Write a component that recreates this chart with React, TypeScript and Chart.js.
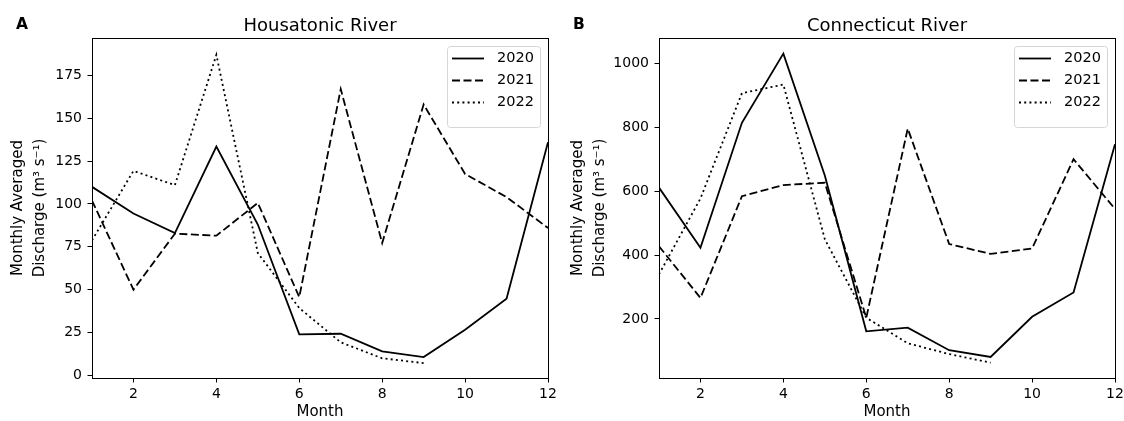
import React, { useEffect, useRef } from "react";
import { Chart, registerables } from "chart.js";

Chart.register(...registerables);

// ---------- data ----------
const MONTHS = [1, 2, 3, 4, 5, 6, 7, 8, 9, 10, 11, 12];
const YEARS = ["2020", "2021", "2022"];

const HOUSATONIC_2020 = [110, 94.4, 83, 133.5, 88, 24, 24.3, 14, 10.7, 26.6, 44.7, 136];
const HOUSATONIC_2021 = [102, 50, 82.7, 81.5, 100.6, 45.7, 167, 77.2, 158, 117.5, 104, 86];
const HOUSATONIC_2022 = [78.8, 119.3, 111, 187, 71.4, 39.3, 19.3, 10, 7.2, null, null, null];

const CONNECTICUT_2020 = [612, 423, 815, 1032, 650, 161.5, 173, 102, 81, 207, 283, 748];
const CONNECTICUT_2021 = [428, 266, 585, 620, 627, 204, 797, 435, 404, 421, 701, 545];
const CONNECTICUT_2022 = [340, 578, 908, 935, 450, 204, 124, 90, 63, null, null, null];

const HOUSATONIC_Y_TICKS = [0, 25, 50, 75, 100, 125, 150, 175];
const CONNECTICUT_Y_TICKS = [200, 400, 600, 800, 1000];
const X_TICKS = [2, 4, 6, 8, 10, 12];

// ---------- styles ----------
const FONT = '"DejaVu Sans", "Noto Sans", sans-serif';
const DASHES: number[][] = [[], [8, 3.5], [2, 3.2]];
const LINE_WIDTH = 1.8;

type PanelProps = {
  title: string;
  letter: string;
  series: (number | null)[][];
  yMin: number;
  yMax: number;
  yTicks: number[];
  width: number;
  left: number;
  yAxisWidth: number;
  padRight: number;
  letterX: number;
};

const decorPlugin = {
  id: "decor",
  afterDraw(chart: any, _args: any, opts: any) {
    const { ctx, chartArea: a } = chart;
    ctx.save();
    // frame
    ctx.strokeStyle = "#000";
    ctx.lineWidth = 1;
    ctx.setLineDash([]);
    const l = Math.round(a.left) + 0.5;
    const t = Math.round(a.top) + 0.5;
    const r = Math.round(a.right) + 0.5;
    const b = Math.round(a.bottom) + 0.5;
    ctx.strokeRect(l, t, r - l, b - t);

    // title
    ctx.fillStyle = "#000";
    ctx.font = `18px ${FONT}`;
    ctx.textAlign = "center";
    ctx.textBaseline = "alphabetic";
    ctx.fillText(opts.title, (a.left + a.right) / 2, 31);

    // panel letter
    ctx.font = `bold 15.5px ${FONT}`;
    ctx.textAlign = "left";
    ctx.fillText(opts.letter, opts.letterX, 29);

    // legend
    const lw = 93;
    const lh = 81;
    const x0 = a.right - 8 - lw;
    const y0 = a.top + 8;
    ctx.beginPath();
    if ((ctx as any).roundRect) {
      (ctx as any).roundRect(x0 + 0.5, y0 + 0.5, lw, lh, 3);
    } else {
      ctx.rect(x0 + 0.5, y0 + 0.5, lw, lh);
    }
    ctx.fillStyle = "rgba(255,255,255,0.8)";
    ctx.fill();
    ctx.strokeStyle = "#d6d6d6";
    ctx.lineWidth = 1;
    ctx.stroke();

    chart.data.datasets.forEach((ds: any, i: number) => {
      const y = y0 + 12.5 + i * 22;
      ctx.beginPath();
      ctx.setLineDash(ds.borderDash || []);
      ctx.strokeStyle = "#000";
      ctx.lineWidth = LINE_WIDTH;
      ctx.moveTo(x0 + 5, y);
      ctx.lineTo(x0 + 37, y);
      ctx.stroke();
      ctx.setLineDash([]);
      ctx.fillStyle = "#000";
      ctx.font = `14.5px ${FONT}`;
      ctx.textAlign = "left";
      ctx.textBaseline = "middle";
      ctx.fillText(ds.label, x0 + 50, y);
    });
    ctx.restore();
  },
};

function Panel(props: PanelProps) {
  const ref = useRef<HTMLCanvasElement | null>(null);

  useEffect(() => {
    if (!ref.current) return;
    const datasets = props.series.map((vals, i) => ({
      label: YEARS[i],
      data: MONTHS.map((m, j) => ({ x: m, y: vals[j] })),
      borderColor: "#000",
      backgroundColor: "#000",
      borderWidth: LINE_WIDTH,
      borderDash: DASHES[i],
      pointRadius: 0,
      tension: 0,
      fill: false,
      spanGaps: false,
    }));

    const chart = new Chart(ref.current, {
      type: "line",
      data: { datasets },
      plugins: [decorPlugin],
      options: {
        responsive: false,
        animation: false,
        devicePixelRatio: 1,
        layout: { padding: { left: 0, right: props.padRight, top: 38, bottom: 0 } },
        plugins: {
          legend: { display: false },
          title: { display: false },
          tooltip: { enabled: false },
          decor: { title: props.title, letter: props.letter, letterX: props.letterX },
        } as any,
        scales: {
          x: {
            type: "linear",
            min: 1,
            max: 12,
            afterBuildTicks: (scale: any) => {
              scale.ticks = X_TICKS.map((v) => ({ value: v }));
            },
            afterFit: (scale: any) => {
              scale.height = 43;
              scale.paddingLeft = 0;
              scale.paddingRight = 0;
            },
            border: { display: false },
            grid: {
              display: true,
              drawOnChartArea: false,
              drawTicks: true,
              tickLength: 4.5,
              tickWidth: 1,
              tickColor: "#000",
              color: "#000",
            },
            ticks: {
              color: "#000",
              font: { family: FONT, size: 14 },
              padding: 3,
              maxRotation: 0,
              autoSkip: false,
              callback: (v: any) => String(v),
            },
            title: {
              display: true,
              text: "Month",
              color: "#000",
              font: { family: FONT, size: 15 },
              padding: { top: 0, bottom: 0 },
            },
          },
          y: {
            type: "linear",
            min: props.yMin,
            max: props.yMax,
            afterBuildTicks: (scale: any) => {
              scale.ticks = props.yTicks.map((v) => ({ value: v }));
            },
            afterFit: (scale: any) => {
              scale.width = props.yAxisWidth;
              scale.paddingTop = 0;
              scale.paddingBottom = 0;
            },
            border: { display: false },
            grid: {
              display: true,
              drawOnChartArea: false,
              drawTicks: true,
              tickLength: 4.5,
              tickWidth: 1,
              tickColor: "#000",
              color: "#000",
            },
            ticks: {
              color: "#000",
              font: { family: FONT, size: 14 },
              padding: 5.5,
              autoSkip: false,
              callback: (v: any) => String(v),
            },
            title: {
              display: true,
              text: ["Monthly Averaged", "Discharge (m\u00B3 s\u207B\u00B9)"],
              color: "#000",
              font: { family: FONT, size: 15, lineHeight: "22px" },
              padding: { top: 7, bottom: 0 },
            },
          },
        },
      } as any,
    });
    return () => chart.destroy();
  }, []);

  return (
    <canvas
      ref={ref}
      width={props.width}
      height={421}
      style={{ position: "absolute", left: props.left, top: 0, width: props.width, height: 421 }}
    />
  );
}

export default function App() {
  return (
    <div
      style={{
        position: "absolute",
        left: 0,
        top: 0,
        width: 1124,
        height: 421,
        background: "#fff",
        overflow: "hidden",
      }}
    >
      <Panel
        title="Housatonic River"
        letter="A"
        series={[HOUSATONIC_2020, HOUSATONIC_2021, HOUSATONIC_2022]}
        yMin={-1.5}
        yMax={196.8}
        yTicks={HOUSATONIC_Y_TICKS}
        width={560}
        left={0}
        yAxisWidth={92}
        padRight={12}
        letterX={16}
      />
      <Panel
        title="Connecticut River"
        letter="B"
        series={[CONNECTICUT_2020, CONNECTICUT_2021, CONNECTICUT_2022]}
        yMin={15}
        yMax={1081}
        yTicks={CONNECTICUT_Y_TICKS}
        width={564}
        left={560}
        yAxisWidth={99}
        padRight={9}
        letterX={13}
      />
    </div>
  );
}
